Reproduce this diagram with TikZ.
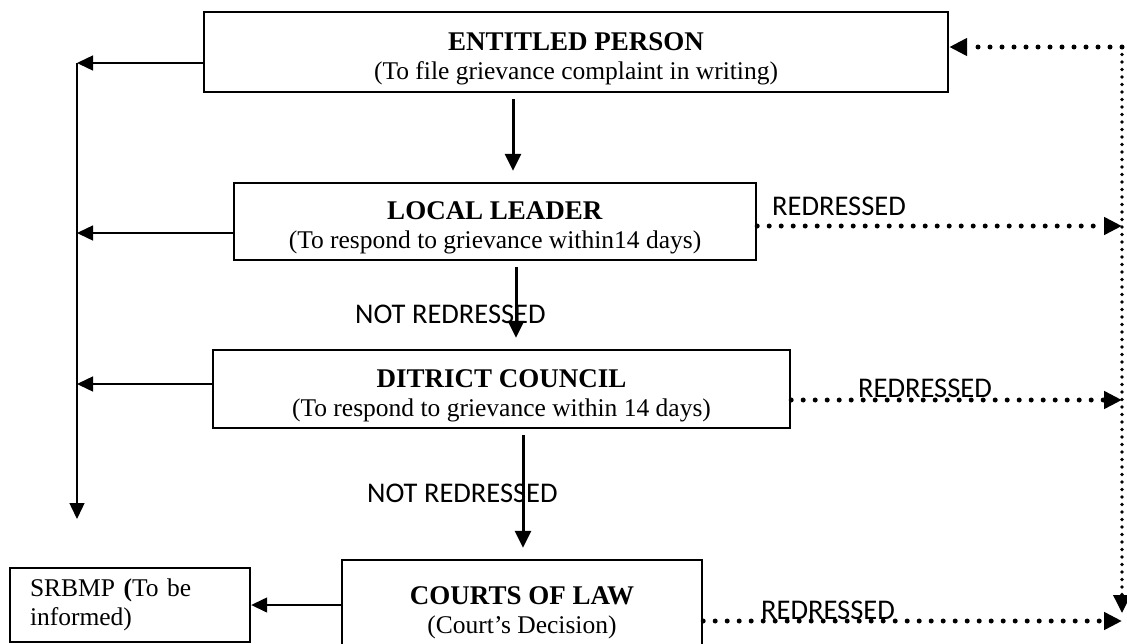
\documentclass[tikz,border=0pt]{standalone}
\usepackage{fontspec}
\setmainfont{Liberation Serif}
\newfontfamily\lblfont{Carlito}
\usetikzlibrary{positioning,arrows.meta,calc}
\newcommand\boxtitle[1]{{\fontsize{27pt}{29pt}\selectfont\textbf{#1}}}

\begin{document}
\begin{tikzpicture}[x=1pt,y=-1pt,
	box/.style={draw,line width=2.4pt,align=center,inner sep=0pt,font=\fontsize{25.5pt}{29pt}\selectfont},
	stage/.style={box,text height=60pt},
	lbl/.style={font=\lblfont\fontsize{28.5pt}{30pt}\selectfont,inner sep=0pt,anchor=base west},
	side/.style={line width=1.4pt,-{Triangle[length=16pt,width=15pt]}},
	fwd/.style={line width=3pt,-{Triangle[length=17pt,width=16pt]}},
	dotarrow/.style={line width=5pt,dash pattern=on 0pt off 12pt,line cap=round,-{Triangle[length=18pt,width=17pt]}},
	dotrail/.style={line width=3.6pt,dash pattern=on 0pt off 7.5pt,line cap=round,-{Triangle[length=18pt,width=17pt]}}]

\path[use as bounding box,clip] (0,0) rectangle (1127,643);

\node[stage,minimum width=744pt,minimum height=80pt](ep) at (576,52) {\boxtitle{ENTITLED PERSON}\\(To file grievance complaint in writing)};
\node[stage,minimum width=522pt,minimum height=77pt](ll) at (495,221.5) {\boxtitle{LOCAL LEADER}\\(To respond to grievance within14 days)};
\node[stage,minimum width=577pt,minimum height=78pt](dc) at (501.5,389) {\boxtitle{DITRICT COUNCIL}\\(To respond to grievance within 14 days)};
\node[stage,minimum width=360pt,minimum height=92pt](cl) at (522,606) {\boxtitle{COURTS OF LAW}\\(Court's Decision)};
\node[box,minimum width=240pt,minimum height=74pt,align=left,text width=200pt](sr) at (130,605) {SRBMP \textbf{(}To be\\informed)};

\node[lbl](nr1) at (355,323) {NOT REDRESSED};
\node[lbl](nr2) at (367,502) {NOT REDRESSED};
\node[lbl](rd1) at (772,215) {REDRESSED};
\node[lbl](rd2) at (858,397) {REDRESSED};
\node[lbl](rd3) at (761,619) {REDRESSED};

% left side rail
\coordinate (r1) at (77,63);
\coordinate (r2) at (77,233);
\coordinate (r3) at (77,384);
\coordinate (r4) at (77,519);
% right side rail
\coordinate (c1) at (1122,47);
\coordinate (c4) at (1122,613);
\coordinate (e2) at (1122,226);
\coordinate (e3) at (1122,400);
\coordinate (e4) at (1122,621);
% down arrows
\coordinate (d1) at (513,0);
\coordinate (d2) at (516,0);
\coordinate (d3) at (523,0);

\foreach \b/\r in {ep/r1,ll/r2,dc/r3}{
	\draw[side](\b.west |- \r)--(\r);
}
\draw[side](r1)--(r4);
\draw[side](cl.west |- sr.east)--(sr.east);

\foreach \a/\b/\x in {ep/ll/d1,ll/dc/d2,dc/cl/d3}{
	\draw[fwd,shorten <=6pt,shorten >=11pt](\a.south -| \x)--(\b.north -| \x);
}

\draw[dotrail](c1)--(c4);
\draw[dotarrow](c1)--(ep.east |- c1);
\foreach \b/\e in {ll/e2,dc/e3,cl/e4}{
	\draw[dotarrow](\b.east |- \e)--(\e);
}
\end{tikzpicture}
\end{document}
